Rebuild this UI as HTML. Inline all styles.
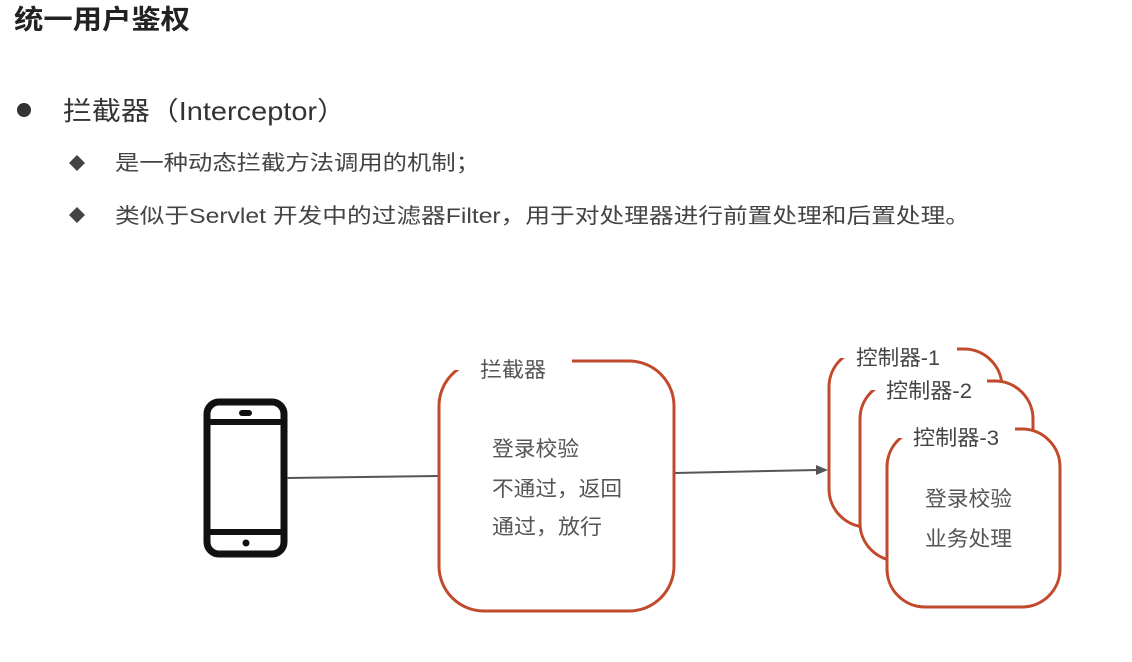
<!DOCTYPE html>
<html><head><meta charset="utf-8"><style>
body{margin:0;background:#fff;}
svg{display:block;}
text{font-family:"Liberation Sans","Noto Sans CJK SC",sans-serif;}
</style></head><body>
<svg width="1132" height="662" viewBox="0 0 1132 662">
<rect width="1132" height="662" fill="#fff"/>
<text x="14" y="29" font-size="27" font-weight="bold" fill="#222" textLength="176" lengthAdjust="spacingAndGlyphs">统一用户鉴权</text>
<circle cx="24" cy="110" r="7" fill="#333"/>
<text x="63" y="120" font-size="26" fill="#333" textLength="283" lengthAdjust="spacingAndGlyphs">拦截器（Interceptor）</text>
<path d="M77 155 L85 163 L77 171 L69 163 Z" fill="#444"/>
<text x="115" y="170" font-size="21" fill="#444" textLength="365" lengthAdjust="spacingAndGlyphs">是一种动态拦截方法调用的机制；</text>
<path d="M77 207 L85 215 L77 223 L69 215 Z" fill="#444"/>
<text x="115" y="223" font-size="21" fill="#444" textLength="855" lengthAdjust="spacingAndGlyphs">类似于Servlet 开发中的过滤器Filter，用于对处理器进行前置处理和后置处理。</text>

<!-- phone -->
<rect x="207" y="402" width="77" height="152" rx="12" fill="none" stroke="#111" stroke-width="7"/>
<line x1="207" y1="422" x2="284" y2="422" stroke="#111" stroke-width="6"/>
<line x1="207" y1="532" x2="284" y2="532" stroke="#111" stroke-width="6"/>
<rect x="239" y="410" width="13" height="6" rx="3" fill="#111"/>
<circle cx="246" cy="543" r="3.5" fill="#111"/>

<!-- connector -->
<line x1="287" y1="478" x2="438" y2="476" stroke="#555" stroke-width="2"/>
<line x1="675" y1="473" x2="818" y2="470" stroke="#555" stroke-width="2"/>
<path d="M828 470 L816 465 L816 475 Z" fill="#555"/>

<!-- interceptor -->
<rect x="439" y="361" width="235" height="250" rx="45" fill="none" stroke="#c24a2c" stroke-width="3"/>
<rect x="455" y="350" width="117" height="20" fill="#fff"/>
<text x="480" y="377" font-size="21" fill="#555" textLength="66" lengthAdjust="spacingAndGlyphs">拦截器</text>
<text x="492" y="456" font-size="21" fill="#555" textLength="87" lengthAdjust="spacingAndGlyphs">登录校验</text>
<text x="492" y="496" font-size="21" fill="#555" textLength="130" lengthAdjust="spacingAndGlyphs">不通过，返回</text>
<text x="492" y="534" font-size="21" fill="#555" textLength="110" lengthAdjust="spacingAndGlyphs">通过，放行</text>

<!-- controllers -->
<rect x="829" y="349" width="173" height="178" rx="38" fill="#fff" stroke="#c24a2c" stroke-width="3"/>
<rect x="836" y="338" width="121" height="20" fill="#fff"/>
<text x="856" y="365" font-size="21" fill="#444" textLength="84" lengthAdjust="spacingAndGlyphs">控制器-1</text>
<rect x="860" y="381" width="173" height="180" rx="38" fill="#fff" stroke="#c24a2c" stroke-width="3"/>
<rect x="867" y="370" width="120" height="20" fill="#fff"/>
<text x="886" y="398" font-size="21" fill="#444" textLength="86" lengthAdjust="spacingAndGlyphs">控制器-2</text>
<rect x="887" y="429" width="173" height="178" rx="38" fill="#fff" stroke="#c24a2c" stroke-width="3"/>
<rect x="895" y="418" width="120" height="20" fill="#fff"/>
<text x="913" y="445" font-size="21" fill="#444" textLength="86" lengthAdjust="spacingAndGlyphs">控制器-3</text>
<text x="925" y="506" font-size="21" fill="#555" textLength="87" lengthAdjust="spacingAndGlyphs">登录校验</text>
<text x="925" y="546" font-size="21" fill="#555" textLength="87" lengthAdjust="spacingAndGlyphs">业务处理</text>
</svg>
</body></html>
